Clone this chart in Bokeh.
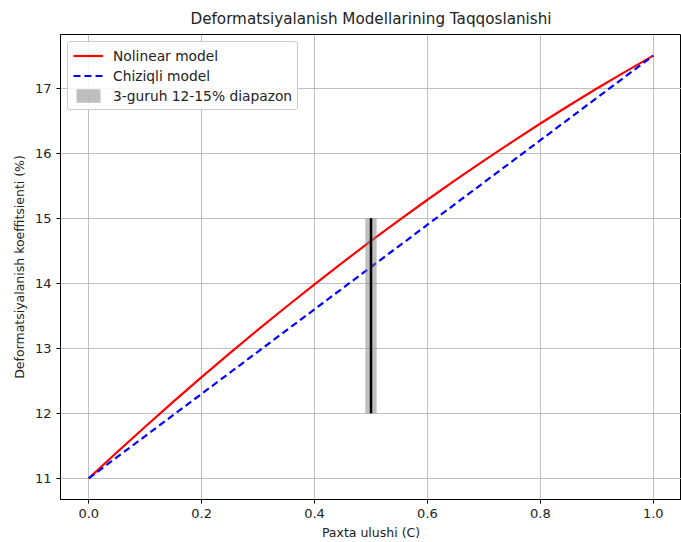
from bokeh.plotting import figure
from bokeh.models import FixedTicker, Range1d, Legend, LegendItem, CustomJSTickFormatter
from bokeh.embed import file_html
from bokeh.resources import INLINE

# Data
c_vals = [0.0, 0.05, 0.1, 0.15, 0.2, 0.25, 0.3, 0.35, 0.4, 0.45, 0.5,
          0.55, 0.6, 0.65, 0.7, 0.75, 0.8, 0.85, 0.9, 0.95, 1.0]
nonlinear = [11.0, 11.401, 11.794, 12.179, 12.556, 12.925, 13.286, 13.639, 13.984, 14.321, 14.65,
             14.971, 15.284, 15.589, 15.886, 16.175, 16.456, 16.729, 16.994, 17.251, 17.5]
linear = [11.0, 11.325, 11.65, 11.975, 12.3, 12.625, 12.95, 13.275, 13.6, 13.925, 14.25,
          14.575, 14.9, 15.225, 15.55, 15.875, 16.2, 16.525, 16.85, 17.175, 17.5]
band_x = 0.5
band_half_width = 0.01
band_low = 12.0
band_high = 15.0
x_ticks = [0.0, 0.2, 0.4, 0.6, 0.8, 1.0]
y_ticks = [11, 12, 13, 14, 15, 16, 17]

FONT = "DejaVu Sans"

p = figure(width=681, height=542, output_backend="svg", toolbar_location=None,
           x_range=Range1d(-0.05, 1.05), y_range=Range1d(10.675, 17.825),
           min_border_left=60, min_border_right=0, min_border_top=10, min_border_bottom=10)

p.title.text = "Deformatsiyalanish Modellarining Taqqoslanishi"
p.title.align = "center"
p.title.text_font = FONT
p.title.text_font_size = "15.2px"
p.title.text_font_style = "normal"
p.title.text_color = "#222222"
p.title.standoff = 14

p.outline_line_color = "black"
p.outline_line_width = 1
p.background_fill_color = "white"
p.border_fill_color = "white"

for ax in (p.xaxis[0], p.yaxis[0]):
    ax.axis_label_text_font = FONT
    ax.axis_label_text_font_size = "12.5px"
    ax.axis_label_text_font_style = "normal"
    ax.axis_label_text_color = "#222222"
    ax.major_label_text_font = FONT
    ax.major_label_text_font_size = "13px"
    ax.major_label_text_color = "#222222"
    ax.minor_tick_line_color = None
    ax.major_tick_out = 4
    ax.major_tick_in = 0
    ax.axis_line_color = "black"

p.xaxis.axis_label = "Paxta ulushi (C)"
p.yaxis.axis_label = "Deformatsiyalanish koeffitsienti (%)"
p.xaxis.ticker = FixedTicker(ticks=x_ticks)
p.yaxis.ticker = FixedTicker(ticks=y_ticks)
p.xaxis.formatter = CustomJSTickFormatter(code="return tick.toFixed(1);")
p.xaxis.axis_label_standoff = 4

p.grid.grid_line_color = "#b0b0b0"
p.grid.grid_line_width = 0.8
p.xgrid.ticker = FixedTicker(ticks=x_ticks)
p.ygrid.ticker = FixedTicker(ticks=y_ticks)

r_nl = p.line(c_vals, nonlinear, line_color="red", line_width=2.2)
r_lin = p.line(c_vals, linear, line_color="blue", line_width=2.2, line_dash="7 4")
r_band = p.quad(left=[band_x - band_half_width], right=[band_x + band_half_width],
                bottom=[band_low], top=[band_high], fill_color="gray", fill_alpha=0.5,
                line_color=None)
p.segment(x0=[band_x], y0=[band_low], x1=[band_x], y1=[band_high],
          line_color="black", line_width=2.5)

legend = Legend(items=[
    LegendItem(label="Nolinear model", renderers=[r_nl]),
    LegendItem(label="Chiziqli model", renderers=[r_lin]),
    LegendItem(label="3-guruh 12-15% diapazon", renderers=[r_band]),
], location="top_left")
legend.label_text_font = FONT
legend.label_text_font_size = "13.8px"
legend.label_text_color = "#222222"
legend.border_line_color = "#cccccc"
legend.border_line_alpha = 1
legend.border_radius = 3
legend.background_fill_alpha = 0.85
legend.glyph_width = 30
legend.glyph_height = 17
legend.label_height = 17
legend.spacing = 3
legend.padding = 5
legend.margin = 7
legend.label_standoff = 10
p.add_layout(legend)

open("out.html", "w").write(file_html(p, INLINE))
